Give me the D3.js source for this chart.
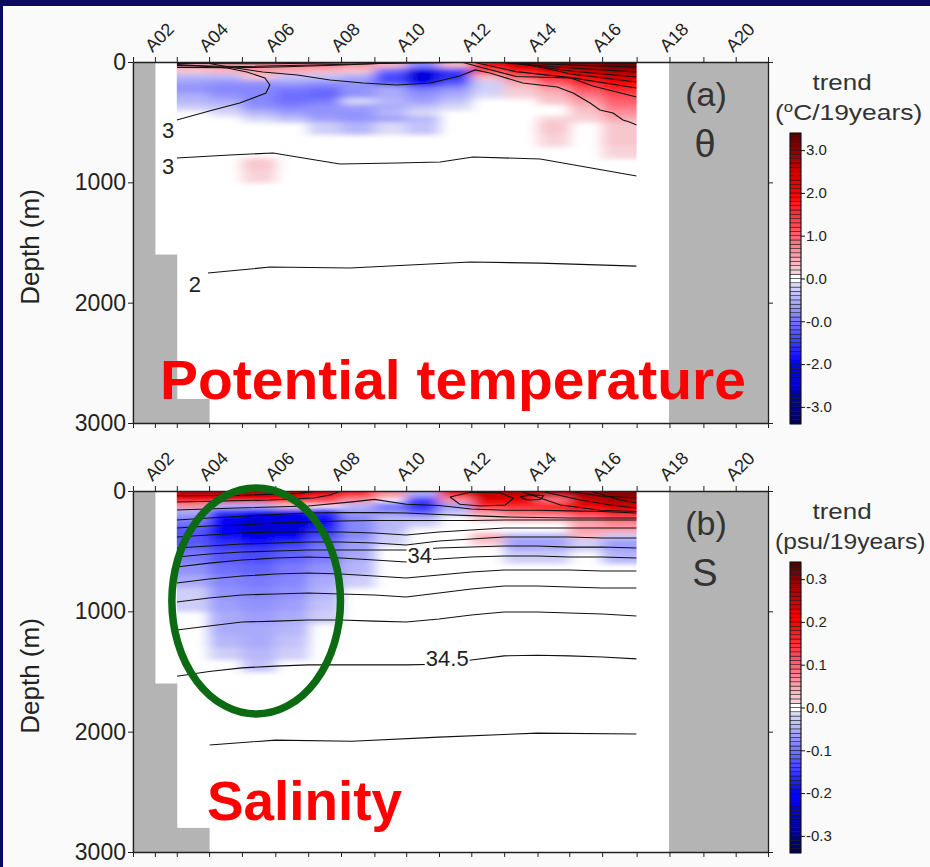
<!DOCTYPE html>
<html>
<head>
<meta charset="utf-8">
<script src="https://cdn.jsdelivr.net/npm/d3@7"></script>
<style>
  body { margin: 0; background: #fafafa; }
  text { font-family: "Liberation Sans", Arial, sans-serif; }
</style>
</head>
<body>
<svg id="chart" width="930" height="867"></svg>
<script>

// ---- data ----------------------------------------------------------------

// stations along the section and their distance (km)
var stations = ["A01","A02","A03","A04","A05","A06","A07","A08","A09","A10",
                "A11","A12","A13","A14","A15","A16","A17","A18","A19","A20","A21"];
var stationKm = [0, 40, 80, 139, 199, 260, 320, 380, 441, 499,
                 559, 618, 678, 739, 797, 857, 920, 980, 1042, 1101, 1160];

var depthTicks = [0, 1000, 2000, 3000];

// top of land / no data (m) for each interval between stations, null = none
var landTop = [0, 1600, 2800, null, null, null, null, null, null, null,
               null, null, null, null, null, null, null, 0, 0, 0];

// colour bar ticks
var thetaBarTicks = [3, 2, 1, 0, -1, -2, -3];
var thetaBarLabels = ["3.0", "2.0", "1.0", "0.0", "-0.0", "-2.0", "-3.0"];
var salBarTicks = [0.3, 0.2, 0.1, 0, -0.1, -0.2, -0.3];
var salBarLabels = ["0.3", "0.2", "0.1", "0.0", "-0.1", "-0.2", "-0.3"];

// depth bins (m) for the trend fields; columns are station intervals A03-A04 ... A16-A17
var thetaEdges = [0, 50, 100, 150, 200, 250, 300, 350, 400, 450, 500, 600, 700, 800, 900, 1000];
var salEdges = [0, 50, 100, 150, 200, 250, 300, 350, 400, 450, 500, 600, 700, 800, 900,
                1000, 1100, 1200, 1300, 1400, 1500];

// potential temperature trend (colour bar units)
var thetaTrend = [
  [0.4, 0.5, 0.6, 0.7, 0.8, 0.6, 0.3, -0.8, 0.3, 2.0, 2.5, 2.8, 3.0, 3.2],
  [0.2, 0.3, 0.5, 0.4, 0.3, 0.2, -1.0, -2.2, -1.4, 1.2, 1.8, 2.2, 2.5, 2.8],
  [-0.4, -0.4, 0.2, -0.3, -0.3, -0.5, -1.4, -2.4, -1.6, 0.3, 1.0, 1.6, 2.0, 2.4],
  [-0.6, -0.7, -0.7, -0.6, -0.7, -0.7, -1.2, -2.0, -1.2, -0.2, 0.4, 1.0, 1.6, 2.0],
  [-0.7, -0.8, -0.8, -0.9, -1.0, -0.7, -0.5, -0.9, -0.7, -0.2, 0.2, 0.5, 1.1, 1.6],
  [-0.5, -0.7, -0.8, -1.0, -1.1, -0.7, -0.5, -0.7, -0.5, -0.1, 0.1, 0.3, 0.8, 1.2],
  [-0.4, -0.5, -0.8, -1.0, -0.9, -0.1, -0.4, -0.6, -0.3, 0, 0, 0.2, 0.5, 1.0],
  [-0.2, -0.3, -0.7, -0.8, -0.7, -0.6, -0.5, -0.3, -0.1, 0, 0, 0, 0.3, 0.8],
  [0, -0.1, -0.4, -0.6, -0.7, -0.7, -0.4, -0.1, 0, 0, 0, 0, 0.2, 0.6],
  [0, 0, -0.1, -0.3, -0.6, -0.7, -0.6, -0.4, 0, 0, 0, 0.15, 0.1, 0.4],
  [0, 0, 0, 0, -0.2, -0.4, -0.1, -0.3, 0, 0, 0, 0.2, 0, 0.2],
  [0, 0, 0, 0, 0, 0, 0, 0, 0, 0, 0, 0.15, 0, 0.2],
  [0, 0, 0, 0, 0, 0, 0, 0, 0, 0, 0, 0, 0, 0.15],
  [0, 0, 0.2, 0, 0, 0, 0, 0, 0, 0, 0, 0, 0, 0],
  [0, 0, 0.15, 0, 0, 0, 0, 0, 0, 0, 0, 0, 0, 0]
];

// salinity trend (psu / 19 years)
var salTrend = [
  [0.25, 0.26, 0.25, 0.24, 0.22, 0.16, 0.06, -0.05, 0.2, 0.26, 0.26, 0.26, 0.28, 0.3],
  [0.2, 0.22, 0.2, 0.18, 0.12, 0.06, 0, -0.14, 0.06, 0.22, 0.22, 0.08, 0.25, 0.28],
  [0.06, -0.04, -0.04, 0.02, 0, -0.04, -0.1, -0.16, -0.06, 0.16, 0.16, 0.18, 0.2, 0.24],
  [-0.05, -0.15, -0.2, -0.2, -0.15, -0.06, -0.07, -0.12, -0.03, 0.06, 0.1, 0.12, 0.15, 0.18],
  [-0.08, -0.2, -0.23, -0.22, -0.18, -0.08, -0.04, -0.04, 0, 0.02, 0.04, 0.04, 0.08, 0.12],
  [-0.1, -0.2, -0.24, -0.23, -0.18, -0.08, -0.04, -0.02, 0, 0, 0, 0, 0.04, 0.06],
  [-0.12, -0.2, -0.24, -0.23, -0.16, -0.08, -0.04, 0, 0, 0, 0, 0, 0.05, 0.05],
  [-0.12, -0.18, -0.22, -0.2, -0.13, -0.08, -0.02, 0, 0, 0.04, -0.04, -0.04, 0.03, -0.02],
  [-0.12, -0.16, -0.18, -0.16, -0.11, -0.06, -0.02, 0, 0, 0.02, -0.06, -0.06, -0.02, -0.06],
  [-0.11, -0.14, -0.15, -0.13, -0.09, -0.06, 0, 0, 0, 0, -0.05, -0.05, -0.02, -0.06],
  [-0.09, -0.12, -0.13, -0.11, -0.09, -0.05, 0, 0, 0, 0, -0.02, -0.02, 0, -0.04],
  [-0.07, -0.1, -0.11, -0.09, -0.07, -0.04, 0, 0, 0, 0, 0, 0, 0, 0],
  [-0.05, -0.08, -0.09, -0.08, -0.05, -0.02, 0, 0, 0, 0, 0, 0, 0, 0],
  [-0.02, -0.07, -0.08, -0.07, -0.04, 0, 0, 0, 0, 0, 0, 0, 0, 0],
  [-0.02, -0.06, -0.07, -0.06, -0.03, 0, 0, 0, 0, 0, 0, 0, 0, 0],
  [0, -0.05, -0.06, -0.05, -0.02, 0, 0, 0, 0, 0, 0, 0, 0, 0],
  [0, -0.05, -0.05, -0.04, 0, 0, 0, 0, 0, 0, 0, 0, 0, 0],
  [0, -0.04, -0.05, -0.03, 0, 0, 0, 0, 0, 0, 0, 0, 0, 0],
  [0, -0.02, -0.04, -0.02, 0, 0, 0, 0, 0, 0, 0, 0, 0, 0],
  [0, 0, -0.03, 0, 0, 0, 0, 0, 0, 0, 0, 0, 0, 0]
];

// potential temperature contours, [km, depth m]
var thetaUpper3 = [[80,482],[146,399],[195,341],[243,258],[250,191],[241,133],[208,83],[172,50],[117,30],[80,22]];
var thetaMid = [[140,12],[172,40],[237,83],[300,108],[360,150],[420,175],[482,191],[543,175],[597,116],
                [625,66],[652,91],[712,175],[775,208],[804,258],[835,341],[853,399],[877,424],
                [895,482],[907,499],[920,524]];
var thetaLower3 = [[80,798],[177,773],[256,756],[300,790],[378,848],[482,839],[561,831],[621,790],[744,806],[920,947]];
var theta2 = [[137,1754],[195,1729],[250,1704],[396,1712],[616,1662],[744,1671],[920,1696]];
var thetaSurf1 = [[80,30],[200,38],[330,25],[450,12],[560,5],[640,0]];
var thetaSurf2 = [[80,12],[250,15],[400,6],[560,2]];
var thetaSurf3 = [[80,45],[180,48],[280,40],[380,25],[460,10],[520,0]];
var thetaFan1 = [[640,0],[800,8],[920,10]];
var thetaFan2 = [[650,0],[800,25],[920,42]];
var thetaFan3 = [[660,0],[800,50],[920,83]];
var thetaFan4 = [[680,0],[800,75],[920,125]];
var thetaFan5 = [[700,0],[800,100],[920,166]];
var thetaFan6 = [[620,0],[700,80],[800,130],[920,216]];
var thetaFan7 = [[600,0],[640,50],[700,120],[800,133],[840,200],[920,291]];

// salinity contours: depth (m) at stations A03 ... A17
var salA = [241, 225, 210, 195, 183, 180, 180, 183, 195, 205, 215, 220, 224, 224, 224];
var salB = [308, 291, 283, 266, 258, 249, 245, 245, 245, 245, 241, 241, 241, 241, 241];
var salC = [382, 366, 349, 341, 341, 341, 349, 366, 341, 324, 308, 308, 308, 308, 308];
var salD = [474, 457, 441, 432, 424, 424, 432, 449, 416, 399, 382, 382, 382, 391, 391];
var salE = [549, 524, 507, 499, 490, 490, 490, 490, 474, 466, 457, 457, 466, 466, 474];
var salF = [632, 599, 574, 557, 549, 557, 574, 590, 565, 549, 540, 540, 549, 549, 557];
var salG = [765, 731, 707, 690, 682, 690, 707, 723, 698, 673, 657, 657, 657, 665, 665];
var salH = [923, 889, 864, 856, 848, 856, 864, 881, 848, 815, 790, 790, 798, 806, 806];
var salI = [1155, 1122, 1089, 1081, 1072, 1072, 1081, 1089, 1064, 1031, 1006, 1006, 1014, 1022, 1039];
var salJ = [1540, 1500, 1470, 1455, 1445, 1445, 1445, 1445, 1440, 1405, 1370, 1365, 1370, 1380, 1395];
// salinity contours given as [km, depth m]
var salK = [[140,2111],[260,2070],[400,2080],[559,2045],[739,2012],[920,2020]];
var salU1 = [[80,158],[190,141],[320,125],[400,90],[441,70],[499,110],[559,120],[618,150],
             [680,160],[739,160],[797,165],[857,170],[920,183]];
var salU2 = [[80,91],[250,75],[330,58],[360,33],[380,0]];
var salU3 = [[80,40],[200,35],[300,20],[340,0]];
var salLoop1 = [[579,50],[597,110],[634,125],[680,116],[695,60],[671,15],[616,10],[579,50]];
var salLoop2 = [[707,50],[720,75],[744,70],[750,40],[725,30],[707,50]];
var salFan1 = [[793,0],[853,41],[920,58]];
var salFan2 = [[835,0],[890,75],[920,100]];
var salFan3 = [[744,0],[817,75],[872,116],[920,141]];
var salFan4 = [[707,0],[781,116],[854,160],[920,170]];

// ---- drawing -------------------------------------------------------------

var svg = d3.select("#chart");
var W = 930, H = 867;

// slide background with the navy border
svg.append("rect").attr("width", W).attr("height", H).attr("fill", "#fafafa");
svg.append("rect").attr("width", W).attr("height", 6).attr("fill", "#0b0b5e");
svg.append("rect").attr("width", 3).attr("height", H).attr("fill", "#0b0b5e");

// soft edges for the gridded trend field
var defs = svg.append("defs");
defs.append("filter")
    .attr("id", "soft")
    .attr("x", "-10%").attr("y", "-10%").attr("width", "120%").attr("height", "120%")
  .append("feGaussianBlur")
    .attr("stdDeviation", "7 2.5");

var x = d3.scaleLinear().domain([0, 1160]).range([133, 768]);

// blue - white - red colour bar
var color = d3.scaleLinear()
  .domain([-3.4, -3, -2.5, -2, -1, -0.1, 0.1, 1, 2, 2.5, 3, 3.4])
  .range(["#000050", "#00008c", "#0000cc", "#0000ff", "#7474ff", "#e0e0f6",
          "#f6dadf", "#ff6070", "#ff0000", "#d00000", "#900000", "#500000"])
  .clamp(true);

// snap a value to its colour bar box (0.1 wide), white near zero
function boxColor(v) {
  var a = Math.abs(v);
  if (a < 0.1) return null;
  var k = Math.min(Math.floor(a * 10), 33);
  return color(Math.sign(v) * (k + 0.5) / 10);
}

var salStationKm = stationKm.slice(2, 17);
function salLine(depths) { return d3.zip(salStationKm, depths); }

function drawPanel(p) {
  var y = d3.scaleLinear().domain([0, 3000]).range([p.top, p.top + 361]);
  var g = svg.append("g");

  // plot background
  g.append("rect")
    .attr("x", x(0)).attr("y", y(0))
    .attr("width", x(1160) - x(0)).attr("height", y(3000) - y(0))
    .attr("fill", "#fff");

  // clip for the data region A03 - A17
  g.append("clipPath").attr("id", p.id)
    .append("rect")
      .attr("x", x(80)).attr("y", y(0))
      .attr("width", x(920) - x(80)).attr("height", y(3000) - y(0));

  // trend cells (edge cells run past the clip so the soft edge does not fade there)
  var nCol = p.values[0].length;
  var cells = d3.merge(p.values.map(function(row, r) {
    return row.map(function(v, c) { return {r: r, c: c, col: boxColor(v * p.factor)}; });
  })).filter(function(d) { return d.col; });

  g.append("g")
    .attr("clip-path", "url(#" + p.id + ")")
    .append("g")
    .attr("filter", "url(#soft)")
    .selectAll("rect")
    .data(cells)
    .enter()
    .append("rect")
      .attr("x", function(d) { return x(stationKm[d.c + 2]) - (d.c === 0 ? 16 : 0); })
      .attr("y", function(d) { return y(p.edges[d.r]) - (d.r === 0 ? 10 : 0); })
      .attr("width", function(d) {
        return x(stationKm[d.c + 3]) - x(stationKm[d.c + 2]) + 0.6 +
               (d.c === 0 ? 16 : 0) + (d.c === nCol - 1 ? 16 : 0);
      })
      .attr("height", function(d) {
        return y(p.edges[d.r + 1]) - y(p.edges[d.r]) + 0.6 + (d.r === 0 ? 10 : 0);
      })
      .attr("fill", function(d) { return d.col; });

  // land / no data
  var land = landTop.map(function(t, i) { return {i: i, top: t}; })
    .filter(function(d) { return d.top !== null; });
  g.append("g").selectAll("rect")
    .data(land)
    .enter()
    .append("rect")
      .attr("x", function(d) { return x(stationKm[d.i]) - 0.5; })
      .attr("y", function(d) { return y(d.top); })
      .attr("width", function(d) { return x(stationKm[d.i + 1]) - x(stationKm[d.i]) + 1; })
      .attr("height", function(d) { return y(3000) - y(d.top); })
      .attr("fill", "#b4b4b4");

  // contours
  var line = d3.line()
    .x(function(d) { return x(d[0]); })
    .y(function(d) { return y(d[1]); });
  g.append("g")
    .attr("clip-path", "url(#" + p.id + ")")
    .selectAll("path")
    .data(p.contours)
    .enter()
    .append("path")
      .attr("d", line)
      .attr("fill", "none")
      .attr("stroke", "#111")
      .attr("stroke-width", 1.1);

  // contour labels
  p.labels.forEach(function(l) {
    var t = g.append("text")
      .attr("x", x(l.km)).attr("y", y(l.depth))
      .attr("dy", "0.36em")
      .attr("text-anchor", "middle")
      .attr("font-size", 22)
      .attr("fill", "#222")
      .text(l.text);
    if (l.knockout) {
      var b = t.node().getBBox();
      g.insert("rect", "text")
        .attr("x", b.x - 1).attr("y", b.y + 3)
        .attr("width", b.width + 2).attr("height", b.height - 6)
        .attr("fill", "#fff");
    }
  });

  // axes
  var top = g.append("g")
    .attr("transform", "translate(0," + y(0) + ")")
    .call(d3.axisTop(x).tickValues(stationKm).tickSize(5).tickSizeOuter(0)
      .tickFormat(function(d, i) { return i % 2 === 1 ? stations[i] : ""; }));
  top.selectAll("text")
    .attr("x", 0).attr("y", 0).attr("dy", null)
    .attr("text-anchor", "start")
    .attr("transform", "translate(-3,-9) rotate(-45)")
    .attr("font-size", 18);

  g.append("g")
    .attr("transform", "translate(0," + y(3000) + ")")
    .call(d3.axisBottom(x).tickValues(stationKm).tickSize(5).tickSizeOuter(0).tickFormat(""));

  var left = g.append("g")
    .attr("transform", "translate(" + x(0) + ",0)")
    .call(d3.axisLeft(y).tickValues(depthTicks).tickSize(5).tickSizeOuter(0)
      .tickPadding(2).tickFormat(d3.format("d")));
  left.selectAll("text").attr("font-size", 23);

  g.append("g")
    .attr("transform", "translate(" + x(1160) + ",0)")
    .call(d3.axisRight(y).tickValues(depthTicks).tickSize(5).tickSizeOuter(0).tickFormat(""));

  g.selectAll(".domain").attr("stroke", "#222").attr("stroke-width", 1.3);
  g.selectAll(".tick line").attr("stroke", "#222");
  g.selectAll(".tick text").attr("font-family", null).attr("fill", "#222");

  // axis title
  g.append("text")
    .attr("transform", "translate(39," + (p.top + 185) + ") rotate(-90)")
    .attr("text-anchor", "middle")
    .attr("font-size", 26)
    .attr("fill", "#222")
    .text("Depth (m)");

  // panel tag inside the grey area
  g.append("text")
    .attr("x", 706).attr("y", p.top + 44)
    .attr("text-anchor", "middle")
    .attr("font-size", 34)
    .attr("fill", "#333")
    .text(p.tag);
  g.append("text")
    .attr("x", 705).attr("y", p.top + 95)
    .attr("text-anchor", "middle")
    .attr("font-size", 38)
    .attr("fill", "#333")
    .text(p.symbol);

  // colour bar
  var by = d3.scaleLinear().domain([-3.4, 3.4]).range([p.top + 362, p.top + 71]);
  var boxes = d3.range(-34, 34).map(function(k) { return k / 10; });
  var bar = g.append("g");
  bar.selectAll("rect")
    .data(boxes)
    .enter()
    .append("rect")
      .attr("x", 790)
      .attr("y", function(d) { return by(d + 0.1); })
      .attr("width", 11)
      .attr("height", by(0) - by(0.1))
      .attr("fill", function(d) { return boxColor(d + 0.05) || "#fff"; })
      .attr("stroke", "#111")
      .attr("stroke-width", 0.5);
  bar.append("rect")
    .attr("x", 790).attr("y", by(3.4))
    .attr("width", 11).attr("height", by(-3.4) - by(3.4))
    .attr("fill", "none").attr("stroke", "#111").attr("stroke-width", 0.8);

  var barAxis = bar.append("g")
    .attr("transform", "translate(801,0)")
    .call(d3.axisRight(by)
      .tickValues(p.barTicks.map(function(t) { return t * p.factor; }))
      .tickFormat(function(d, i) { return p.barLabels[i]; })
      .tickSize(4).tickPadding(1).tickSizeOuter(0));
  barAxis.select(".domain").remove();
  barAxis.selectAll("text").attr("font-family", null).attr("font-size", 15).attr("fill", "#222");
  barAxis.selectAll("line").attr("stroke", "#111");

  // colour bar titles, drawn a little wide like the original
  g.append("text")
    .attr("transform", "translate(842," + (p.top + 28) + ") scale(1.18,1)")
    .attr("text-anchor", "middle")
    .attr("font-size", 22)
    .attr("fill", "#333")
    .text("trend");
  var unit = g.append("text")
    .attr("transform", "translate(775," + (p.top + 58) + ") scale(" + p.unitScale + ",1)")
    .attr("font-size", 22)
    .attr("fill", "#333");
  p.unit(unit);

  return y;
}

// (a) potential temperature
drawPanel({
  id: "clipA", top: 62, tag: "(a)", symbol: "\u03b8",
  values: thetaTrend, edges: thetaEdges, factor: 1,
  contours: [thetaUpper3, thetaMid, thetaLower3, theta2, thetaSurf1, thetaSurf2, thetaSurf3,
             thetaFan1, thetaFan2, thetaFan3, thetaFan4, thetaFan5, thetaFan6, thetaFan7],
  labels: [{text: "3", km: 64, depth: 565}, {text: "3", km: 64, depth: 864},
           {text: "2", km: 113, depth: 1845}],
  barTicks: thetaBarTicks, barLabels: thetaBarLabels, unitScale: 1.2,
  unit: function(t) {
    t.append("tspan").text("(");
    t.append("tspan").attr("font-size", 14).attr("dy", -8).text("o");
    t.append("tspan").attr("dy", 8).text("C/19years)");
  }
});

// (b) salinity
var yS = drawPanel({
  id: "clipB", top: 491, tag: "(b)", symbol: "S",
  values: salTrend, edges: salEdges, factor: 10,
  contours: [salLine(salA), salLine(salB), salLine(salC), salLine(salD), salLine(salE),
             salLine(salF), salLine(salG), salLine(salH), salLine(salI), salLine(salJ),
             salK, salU1, salU2, salU3, salLoop1, salLoop2, salFan1, salFan2, salFan3, salFan4],
  labels: [{text: "34", km: 524, depth: 532, knockout: true},
           {text: "34.5", km: 574, depth: 1388, knockout: true}],
  barTicks: salBarTicks, barLabels: salBarLabels, unitScale: 1.12,
  unit: function(t) { t.text("(psu/19years)"); }
});

// green ellipse round the freshening core
svg.append("ellipse")
  .attr("cx", x(225)).attr("cy", yS(914))
  .attr("rx", x(379) - x(225)).attr("ry", yS(1853) - yS(914))
  .attr("fill", "none")
  .attr("stroke", "#0b6a12")
  .attr("stroke-width", 7.5);

// slide captions
svg.append("text")
  .attr("x", 160).attr("y", 399)
  .attr("font-family", "Lato, 'Open Sans', sans-serif")
  .attr("font-weight", "bold")
  .attr("font-size", 56)
  .attr("textLength", 586)
  .attr("lengthAdjust", "spacingAndGlyphs")
  .attr("fill", "#ff0000")
  .text("Potential temperature");

svg.append("text")
  .attr("x", 207).attr("y", 820)
  .attr("font-family", "Lato, 'Open Sans', sans-serif")
  .attr("font-weight", "bold")
  .attr("font-size", 56)
  .attr("textLength", 195)
  .attr("lengthAdjust", "spacingAndGlyphs")
  .attr("fill", "#ff0000")
  .text("Salinity");

</script>
</body>
</html>
